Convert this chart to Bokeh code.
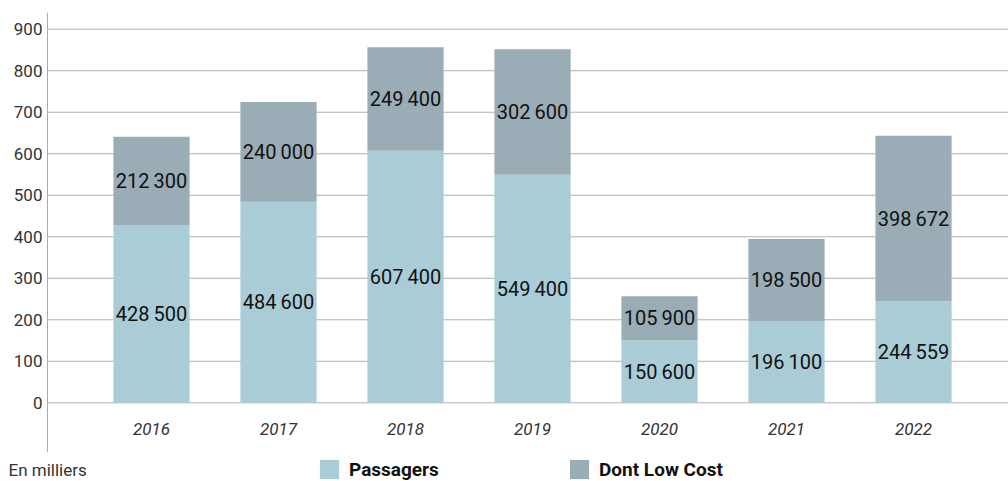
from bokeh.plotting import figure
from bokeh.models import Legend, LegendItem, Label, FixedTicker
from bokeh.embed import file_html
from bokeh.resources import INLINE
from bokeh.core.properties import value

years = ["2016", "2017", "2018", "2019", "2020", "2021", "2022"]
passagers = [428500, 484600, 607400, 549400, 150600, 196100, 244559]
low_cost = [212300, 240000, 249400, 302600, 105900, 198500, 398672]
series_names = ["Passagers", "Dont Low Cost"]
series_colors = ["#A9CCD6", "#9AACB5"]
y_ticks = [0, 100, 200, 300, 400, 500, 600, 700, 800, 900]
unit_note = "En milliers"

FONT = "Roboto"
X0, X1 = -1.189, 6.748      # frame spans the full width
Y0, Y1 = -189.6, 969.2      # frame spans the full height
AX = -0.819                 # where the value axis sits
AX_BOTTOM, AX_TOP = -119, 940

def fmt(v):
    return f"{v:,}".replace(",", "\u2009")

xs = list(range(len(years)))
p_k = [v / 1000 for v in passagers]
lc_k = [v / 1000 for v in low_cost]
tops = [a + b for a, b in zip(p_k, lc_k)]
mid1 = [a / 2 for a in p_k]
mid2 = [a + b / 2 for a, b in zip(p_k, lc_k)]

p = figure(width=1008, height=481, x_range=(X0, X1), y_range=(Y0, Y1),
           output_backend="svg", toolbar_location=None,
           min_border_left=0, min_border_right=0, min_border_top=0, min_border_bottom=0)
p.outline_line_color = None
p.background_fill_color = "white"

# grid lines start at the value axis
p.ygrid.visible = False
p.xgrid.visible = False
p.segment(x0=[AX] * len(y_ticks), y0=y_ticks, x1=[X1] * len(y_ticks), y1=y_ticks,
          line_color="#b0b0b0", line_width=1)

r1 = p.vbar(x=xs, bottom=0, top=p_k, width=0.6, fill_color=series_colors[0], line_color=None)
r2 = p.vbar(x=xs, bottom=p_k, top=tops, width=0.6, fill_color=series_colors[1], line_color=None)

p.text(x=xs, y=mid1, text=[fmt(v) for v in passagers], text_align="center", text_baseline="middle",
       text_font=value(FONT), text_font_size="20px", text_color="#111111")
p.text(x=xs, y=mid2, text=[fmt(v) for v in low_cost], text_align="center", text_baseline="middle",
       text_font=value(FONT), text_font_size="20px", text_color="#111111")

# category labels under the bars
p.text(x=xs, y=[-63] * len(xs), text=years, text_align="center", text_baseline="middle",
       text_font=value(FONT), text_font_style="italic", text_font_size="17px", text_color="#333333")

# y axis inside the frame
p.xaxis.visible = False
p.yaxis.fixed_location = AX
p.yaxis.ticker = FixedTicker(ticks=y_ticks)
p.yaxis.major_tick_line_color = None
p.yaxis.minor_tick_line_color = None
p.yaxis.major_tick_out = 0
p.yaxis.major_tick_in = 0
p.yaxis.axis_line_color = None
p.yaxis.major_label_text_font = FONT
p.yaxis.major_label_text_font_size = "17px"
p.yaxis.major_label_text_color = "#333333"
p.yaxis.major_label_text_baseline = "alphabetic"
p.yaxis.major_label_standoff = 5

# vertical axis line (stops above the legend row)
p.segment(x0=[AX], y0=[AX_BOTTOM], x1=[AX], y1=[AX_TOP], line_color="#aaaaaa", line_width=1)

legend = Legend(items=[LegendItem(label=series_names[0], renderers=[r1]),
                       LegendItem(label=series_names[1], renderers=[r2])],
                orientation="horizontal", location=(317, 0),
                glyph_width=24, glyph_height=24, label_standoff=8, label_width=218, spacing=0,
                label_text_font=FONT, label_text_font_style="bold", label_text_font_size="19px",
                label_text_color="#111111", border_line_color=None, background_fill_alpha=0,
                padding=0, margin=0)
p.add_layout(legend)

note = Label(x=-1.126, y=-163, text=unit_note, text_font=FONT, text_font_size="17px",
             text_color="#333333", text_baseline="middle")
p.add_layout(note)

open("out.html", "w").write(file_html(p, INLINE))
